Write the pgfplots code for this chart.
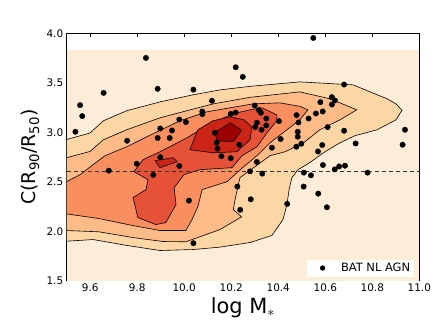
\documentclass[border=0pt]{standalone}
\usepackage{fontspec}
\setmainfont{DejaVu Sans}
\usepackage{pgfplots}
\pgfplotsset{compat=1.18}
\definecolor{bg}{HTML}{FDECD7}
\definecolor{lvA}{HTML}{FDD6A6}
\definecolor{lvB}{HTML}{FCBB87}
\definecolor{lvC}{HTML}{F98E5E}
\definecolor{lvD}{HTML}{E55237}
\definecolor{lvE}{HTML}{CC2417}
\definecolor{lvF}{HTML}{9C0000}

\begin{document}
\begin{tikzpicture}
\path[use as bounding box] (0bp,0bp) rectangle (442bp,331bp);
\begin{axis}[
  at={(66.7bp,50.3bp)}, anchor=south west,
  scale only axis, width=352.6bp, height=247.4bp,
  xmin=9.5, xmax=11.0, ymin=1.5, ymax=4.0,
  xtick={9.6,9.8,10.0,10.2,10.4,10.6,10.8,11.0},
  ytick={1.5,2.0,2.5,3.0,3.5,4.0},
  tick align=inside, tick pos=both,
  major tick length=4bp,
  tick style={black, line width=0.6bp},
  axis line style={black, line width=0.9bp},
  ticklabel style={font=\fontsize{10.5}{12}\selectfont},
  /pgf/number format/.cd, fixed, fixed zerofill, precision=1, assume math mode=true,
  /pgfplots/.cd,
  xlabel={log M$_{*}$},
  ylabel={C(R\textsubscript{90}/R\textsubscript{50})},
  xlabel style={font=\fontsize{21}{24}\selectfont, at={(axis description cs:0.5,-0.1306)}, anchor=base},
  ylabel style={font=\fontsize{19}{22}\selectfont, at={(axis description cs:-0.104,0.5)}, anchor=center},
  legend style={at={(axis description cs:0.986,0.016)}, anchor=south east,
    draw=none, fill=white, font=\fontsize{11.5}{13}\selectfont,
    inner xsep=2bp, inner ysep=1.5bp},
  legend cell align=left,
]
% background of the density grid
\addplot[fill=bg, draw=none, forget plot] coordinates {
  (9.5,1.5) (11.0,1.5) (11.0,3.835) (9.5,3.835)
} -- cycle;
% contour levels, outermost first
\addplot[fill=lvA, draw=black, line width=0.6bp, forget plot] coordinates {
  (9.500,2.927) (9.599,2.992) (9.656,3.116) (9.755,3.217) (9.897,3.307)
  (10.037,3.378) (10.152,3.428) (10.280,3.464) (10.492,3.509) (10.718,3.479)
  (10.863,3.338) (10.901,3.287) (10.926,3.222) (10.901,3.126) (10.820,3.025)
  (10.726,2.965) (10.663,2.894) (10.599,2.803) (10.527,2.682) (10.484,2.622)
  (10.458,2.541) (10.446,2.420) (10.437,2.269) (10.420,2.118) (10.373,1.957)
  (10.280,1.886) (10.152,1.839) (10.037,1.815) (9.897,1.805) (9.757,1.856)
  (9.612,1.916) (9.500,1.899)
} -- cycle;
\addplot[fill=lvB, draw=black, line width=0.6bp, forget plot] coordinates {
  (9.500,2.743) (9.599,2.806) (9.656,2.924) (9.755,3.025) (9.897,3.146)
  (10.010,3.217) (10.124,3.287) (10.280,3.353) (10.492,3.408) (10.620,3.338)
  (10.734,3.227) (10.663,3.126) (10.577,3.025) (10.506,2.891) (10.429,2.803)
  (10.365,2.763) (10.301,2.652) (10.237,2.541) (10.216,2.319) (10.209,2.219)
  (10.244,2.145) (10.152,2.017) (10.007,1.893) (9.910,1.896) (9.782,1.936)
  (9.637,1.994) (9.500,2.007)
} -- cycle;
\addplot[fill=lvC, draw=black, line width=0.6bp, forget plot] coordinates {
  (9.500,2.501) (9.557,2.572) (9.612,2.672) (9.663,2.763) (9.756,2.854)
  (9.867,2.985) (9.982,3.116) (10.097,3.207) (10.207,3.252) (10.293,3.287)
  (10.407,3.297) (10.492,3.262) (10.526,3.227) (10.492,3.126) (10.437,3.025)
  (10.365,2.894) (10.314,2.773) (10.258,2.662) (10.182,2.501) (10.076,2.420)
  (10.058,2.249) (10.033,2.118) (10.007,2.007) (9.897,2.007) (9.782,2.057)
  (9.637,2.128) (9.500,2.175)
} -- cycle;
\addplot[fill=lvD, draw=black, line width=0.6bp, forget plot] coordinates {
  (9.825,2.723) (9.897,2.803) (10.012,2.944) (10.110,3.086) (10.207,3.186)
  (10.280,3.227) (10.331,3.247) (10.394,3.176) (10.394,3.116) (10.352,2.995)
  (10.310,2.854) (10.246,2.763) (10.203,2.642) (10.067,2.622) (9.999,2.572)
  (9.957,2.440) (9.965,2.269) (9.922,2.088) (9.880,2.067) (9.803,2.138)
  (9.782,2.340) (9.837,2.420) (9.846,2.521) (9.786,2.602)
} -- cycle;
\addplot[fill=lvE, draw=black, line width=0.6bp, forget plot] coordinates {
  (10.024,2.824) (10.058,3.025) (10.122,3.116) (10.195,3.156) (10.254,3.126)
  (10.288,3.055) (10.280,2.924) (10.224,2.803) (10.122,2.793)
} -- cycle;
\addplot[fill=lvE, draw=black, line width=0.6bp, forget plot] coordinates {
  (9.876,2.713) (9.952,2.743) (9.970,2.703) (9.897,2.642)
} -- cycle;
\addplot[fill=lvF, draw=black, line width=0.6bp, forget plot] coordinates {
  (10.131,3.000) (10.197,3.096) (10.244,3.020) (10.209,2.904) (10.139,2.914)
} -- cycle;
% reference line
\addplot[black!80, line width=0.8bp, forget plot, dash pattern=on 4.5bp off 2.5bp] coordinates {(9.5,2.6) (11.0,2.6)};
% sources
\addplot[only marks, mark=*, mark size=2.7bp, black,
  legend image code/.code={\path[draw=none] (0bp,0bp) -- (30bp,0bp); \fill[black] (13.5bp,0bp) circle (2.4bp);}] coordinates {
  (9.837,3.751) (9.887,3.439) (9.657,3.398) (9.557,3.274) (9.566,3.163)
  (9.537,3.005) (9.757,2.914) (9.898,3.038) (9.948,3.018) (9.979,3.129)
  (9.887,2.942) (9.938,2.942) (9.898,2.748) (10.219,3.657) (10.249,3.560)
  (10.039,3.431) (10.118,3.318) (10.300,3.270) (10.077,3.210) (10.077,3.183)
  (10.318,3.224) (10.326,3.197) (10.198,3.186) (10.219,3.200) (10.007,3.103)
  (10.349,3.139) (10.403,3.113) (10.478,3.173) (10.309,3.096) (10.302,3.052)
  (10.329,3.025) (10.349,3.069) (10.486,3.099) (10.130,2.995) (10.138,2.894)
  (10.141,2.834) (10.234,2.874) (10.410,2.931) (10.373,2.844) (10.483,3.005)
  (10.483,2.955) (10.477,2.854) (10.158,2.758) (10.198,2.738) (10.549,3.953)
  (10.680,3.482) (10.628,3.355) (10.641,3.321) (10.628,3.280) (10.579,3.304)
  (10.589,3.210) (10.560,3.190) (10.529,3.139) (10.610,3.052) (10.680,3.015)
  (10.498,2.884) (10.587,2.871) (10.569,2.806) (10.729,2.887) (10.939,3.025)
  (10.929,2.874) (9.679,2.612) (9.798,2.682) (9.979,2.659) (9.868,2.569)
  (10.309,2.700) (10.280,2.605) (10.332,2.582) (10.226,2.451) (10.020,2.309)
  (10.283,2.323) (10.238,2.216) (10.438,2.276) (10.039,1.879) (10.590,2.669)
  (10.640,2.625) (10.659,2.655) (10.684,2.662) (10.509,2.592) (10.539,2.565)
  (10.780,2.592) (10.508,2.451) (10.570,2.380) (10.607,2.242)
};
\addlegendentry{BAT NL AGN}
\end{axis}
\end{tikzpicture}
\end{document}
